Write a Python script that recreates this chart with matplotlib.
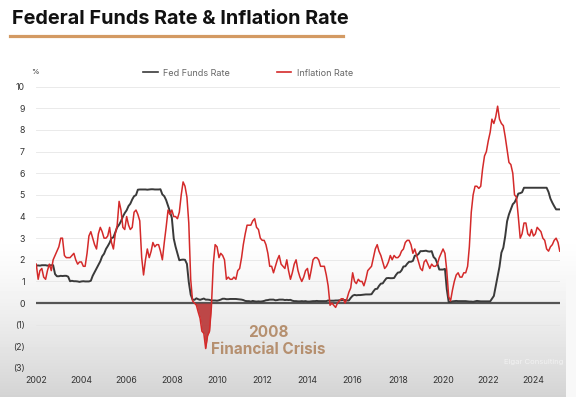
import numpy as np
import pandas as pd
import matplotlib
matplotlib.use("Agg")
import matplotlib.pyplot as plt
import matplotlib.dates as mdates
from matplotlib.lines import Line2D

plt.rcParams['font.family'] = ['Inter', 'DejaVu Sans']

# monthly effective fed funds rate, Jan 2002 .. Mar 2025
fed_funds = [
    1.73, 1.74, 1.73, 1.75, 1.75, 1.75, 1.73, 1.74, 1.75, 1.75, 1.34, 1.24,  # 2002
    1.24, 1.26, 1.25, 1.26, 1.26, 1.22, 1.01, 1.03, 1.01, 1.01, 1.00, 0.98,  # 2003
    1.00, 1.01, 1.00, 1.00, 1.00, 1.03, 1.26, 1.43, 1.61, 1.76, 1.93, 2.16,  # 2004
    2.28, 2.50, 2.63, 2.79, 3.00, 3.04, 3.26, 3.50, 3.62, 3.78, 4.00, 4.16,  # 2005
    4.29, 4.49, 4.59, 4.79, 4.94, 4.99, 5.24, 5.25, 5.25, 5.25, 5.25, 5.24,  # 2006
    5.25, 5.26, 5.26, 5.25, 5.25, 5.25, 5.26, 5.02, 4.94, 4.76, 4.49, 4.24,  # 2007
    3.94, 2.98, 2.61, 2.28, 1.98, 2.00, 2.01, 2.00, 1.81, 0.97, 0.39, 0.16,  # 2008
    0.15, 0.22, 0.18, 0.15, 0.18, 0.21, 0.16, 0.16, 0.15, 0.12, 0.12, 0.12,  # 2009
    0.11, 0.13, 0.16, 0.20, 0.20, 0.18, 0.18, 0.19, 0.19, 0.19, 0.19, 0.18,  # 2010
    0.17, 0.16, 0.14, 0.10, 0.09, 0.09, 0.07, 0.10, 0.08, 0.07, 0.08, 0.07,  # 2011
    0.08, 0.10, 0.13, 0.14, 0.16, 0.16, 0.16, 0.13, 0.14, 0.16, 0.16, 0.16,  # 2012
    0.14, 0.15, 0.14, 0.15, 0.11, 0.09, 0.09, 0.08, 0.08, 0.09, 0.08, 0.09,  # 2013
    0.07, 0.07, 0.08, 0.09, 0.09, 0.10, 0.09, 0.09, 0.09, 0.09, 0.09, 0.12,  # 2014
    0.11, 0.11, 0.11, 0.12, 0.12, 0.13, 0.13, 0.14, 0.14, 0.12, 0.12, 0.24,  # 2015
    0.34, 0.38, 0.36, 0.37, 0.37, 0.38, 0.39, 0.40, 0.40, 0.40, 0.41, 0.54,  # 2016
    0.65, 0.66, 0.79, 0.90, 0.91, 1.04, 1.15, 1.16, 1.15, 1.15, 1.16, 1.30,  # 2017
    1.41, 1.42, 1.51, 1.69, 1.70, 1.82, 1.91, 1.91, 1.95, 2.19, 2.20, 2.27,  # 2018
    2.40, 2.40, 2.41, 2.42, 2.39, 2.38, 2.40, 2.13, 2.04, 1.83, 1.55, 1.55,  # 2019
    1.55, 1.58, 0.65, 0.05, 0.05, 0.08, 0.09, 0.10, 0.09, 0.09, 0.09, 0.09,  # 2020
    0.09, 0.08, 0.07, 0.07, 0.06, 0.08, 0.10, 0.09, 0.08, 0.08, 0.08, 0.08,  # 2021
    0.08, 0.08, 0.20, 0.33, 0.77, 1.21, 1.68, 2.33, 2.56, 3.08, 3.78, 4.10,  # 2022
    4.33, 4.57, 4.65, 4.83, 5.06, 5.08, 5.12, 5.33, 5.33, 5.33, 5.33, 5.33,  # 2023
    5.33, 5.33, 5.33, 5.33, 5.33, 5.33, 5.33, 5.33, 5.13, 4.83, 4.64, 4.48,  # 2024
    4.33, 4.33, 4.33,                                                        # 2025
]

# monthly CPI inflation, year over year
inflation = [
    1.8, 1.1, 1.5, 1.6, 1.2, 1.1, 1.5, 1.8, 1.5, 2.0, 2.2, 2.4,  # 2002
    2.6, 3.0, 3.0, 2.2, 2.1, 2.1, 2.1, 2.2, 2.3, 2.0, 1.8, 1.9,  # 2003
    1.9, 1.7, 1.7, 2.3, 3.1, 3.3, 3.0, 2.7, 2.5, 3.2, 3.5, 3.3,  # 2004
    3.0, 3.0, 3.1, 3.5, 2.8, 2.5, 3.2, 3.6, 4.7, 4.3, 3.5, 3.4,  # 2005
    4.0, 3.6, 3.4, 3.5, 4.2, 4.3, 4.1, 3.8, 2.1, 1.3, 2.0, 2.5,  # 2006
    2.1, 2.4, 2.8, 2.6, 2.7, 2.7, 2.4, 2.0, 2.8, 3.5, 4.3, 4.1,  # 2007
    4.3, 4.0, 4.0, 3.9, 4.2, 5.0, 5.6, 5.4, 4.9, 3.7, 1.1, 0.1,  # 2008
    0.0, -0.1, -0.4, -0.7, -1.3, -1.4, -2.1, -1.5, -1.3, -0.2, 1.8, 2.7,  # 2009
    2.6, 2.1, 2.3, 2.2, 2.0, 1.1, 1.2, 1.1, 1.1, 1.2, 1.1, 1.5,  # 2010
    1.6, 2.1, 2.7, 3.2, 3.6, 3.6, 3.6, 3.8, 3.9, 3.5, 3.4, 3.0,  # 2011
    2.9, 2.9, 2.7, 2.3, 1.7, 1.7, 1.4, 1.7, 2.0, 2.2, 1.8, 1.7,  # 2012
    1.6, 2.0, 1.5, 1.1, 1.4, 1.8, 2.0, 1.5, 1.2, 1.0, 1.2, 1.5,  # 2013
    1.6, 1.1, 1.5, 2.0, 2.1, 2.1, 2.0, 1.7, 1.7, 1.7, 1.3, 0.8,  # 2014
    -0.1, 0.0, -0.1, -0.2, 0.0, 0.1, 0.2, 0.2, 0.0, 0.2, 0.5, 0.7,  # 2015
    1.4, 1.0, 0.9, 1.1, 1.0, 1.0, 0.8, 1.1, 1.5, 1.6, 1.7, 2.1,  # 2016
    2.5, 2.7, 2.4, 2.2, 1.9, 1.6, 1.7, 1.9, 2.2, 2.0, 2.2, 2.1,  # 2017
    2.1, 2.2, 2.4, 2.5, 2.8, 2.9, 2.9, 2.7, 2.3, 2.5, 2.2, 1.9,  # 2018
    1.6, 1.5, 1.9, 2.0, 1.8, 1.6, 1.8, 1.7, 1.7, 1.8, 2.1, 2.3,  # 2019
    2.5, 2.3, 1.5, 0.3, 0.1, 0.6, 1.0, 1.3, 1.4, 1.2, 1.2, 1.4,  # 2020
    1.4, 1.7, 2.6, 4.2, 5.0, 5.4, 5.4, 5.3, 5.4, 6.2, 6.8, 7.0,  # 2021
    7.5, 7.9, 8.5, 8.3, 8.6, 9.1, 8.5, 8.3, 8.2, 7.7, 7.1, 6.5,  # 2022
    6.4, 6.0, 5.0, 4.9, 4.0, 3.0, 3.2, 3.7, 3.7, 3.2, 3.1, 3.4,  # 2023
    3.1, 3.2, 3.5, 3.4, 3.3, 3.0, 2.9, 2.5, 2.4, 2.6, 2.7, 2.9,  # 2024
    3.0, 2.8, 2.4,                                               # 2025
]

y_ticks = list(range(-3, 11))
x_years = list(range(2002, 2025, 2))

dates = pd.date_range("2002-01-01", periods=len(fed_funds), freq="MS")
fed = np.array(fed_funds)
infl = np.array(inflation)

W, H = 576, 397
fig = plt.figure(figsize=(W / 100, H / 100), dpi=100)

# greyish fade at the bottom like the video still
bg = fig.add_axes([0, 0, 1, 1], zorder=-5)
rows = np.ones(H)
start = 235
rows[start:] = 1 - 0.17 * np.linspace(0, 1, H - start) ** 1.3
img = np.repeat(rows[:, None], W, axis=1)
img[:, 566:] = np.maximum(img[:, 566:], 0.97)
bg.imshow(img, cmap="gray", vmin=0, vmax=1, aspect="auto", extent=[0, 1, 0, 1])
bg.axis("off")

ax = fig.add_axes([36 / W, 1 - 368 / H, (560 - 36) / W, (368 - 86.7) / H])
ax.set_facecolor("none")

for v in y_ticks:
    if v != 0:
        ax.axhline(v, color="#e6e6e6", lw=0.6, zorder=0)
ax.axhline(0, color="#555555", lw=1.6, zorder=1)

ax.plot(dates, fed, color="#3a3a3a", lw=1.4, zorder=3)
ax.plot(dates, infl, color="#d42a2a", lw=1.1, zorder=4)

crisis = (infl < 0) & (dates.year == 2009)
crisis = crisis | np.roll(crisis, 1) | np.roll(crisis, -1)
ax.fill_between(dates, infl, 0, where=crisis & (infl <= 0.05),
                color="#b52a2a", alpha=0.85, lw=0, zorder=2, interpolate=True)

ax.set_xlim(pd.Timestamp("2001-12-28"), pd.Timestamp("2025-03-05"))
ax.set_ylim(-3, 10)
ax.set_yticks(y_ticks)
ax.set_yticklabels([f"({-v})" if v < 0 else str(v) for v in y_ticks])
ax.set_xticks([pd.Timestamp(f"{y}-01-01") for y in x_years])
ax.xaxis.set_major_formatter(mdates.DateFormatter("%Y"))
ax.tick_params(axis="both", length=0, labelsize=6.3, colors="#333333")
ax.tick_params(axis="y", pad=8)
ax.tick_params(axis="x", pad=6)
for s in ax.spines.values():
    s.set_visible(False)

ax.text(pd.Timestamp("2012-04-10"), -1.75, "2008\nFinancial Crisis", color="#b08662",
        fontsize=11, fontweight="bold", ha="center", va="center",
        linespacing=1.1, alpha=0.9)

# title + underline
fig.text(12 / W, 1 - 19 / H, "Federal Funds Rate & Inflation Rate", fontsize=14.3,
         fontweight="bold", color="#111111", ha="left", va="center")
fig.add_artist(Line2D([10 / W, 343 / W], [1 - 36 / H, 1 - 36 / H], color="#d39a63",
                      lw=2.3, transform=fig.transFigure))

fig.text(31 / W, 1 - 72 / H, "%", fontsize=5.5, color="#333333", ha="left", va="center")

handles = [Line2D([], [], color="#3a3a3a", lw=1.2), Line2D([], [], color="#d42a2a", lw=1.2)]
fig.legend(handles, ["Fed Funds Rate", "Inflation Rate"], loc="center",
           bbox_to_anchor=(248 / W, 1 - 73 / H), ncol=2, frameon=False,
           fontsize=6.5, handlelength=1.6, handletextpad=0.6, columnspacing=5.2,
           labelcolor="#666666")

fig.text(534 / W, 1 - 362 / H, "Elgar Consulting", fontsize=5.5, color="#f4f4f4",
         alpha=0.9, ha="center", va="center")

fig.savefig("out.png", dpi=100)
